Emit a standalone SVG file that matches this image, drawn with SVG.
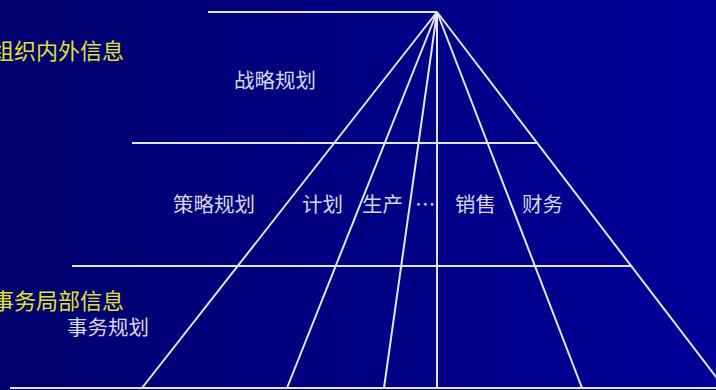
<svg xmlns="http://www.w3.org/2000/svg" width="716" height="390" viewBox="0 0 716 390">
  <defs>
    <linearGradient id="bg" x1="0" y1="0" x2="1" y2="0">
      <stop offset="0" stop-color="#00006e"/>
      <stop offset="1" stop-color="#000098"/>
    </linearGradient>
  </defs>
  <style>
    .ln { stroke: #e4e4f4; stroke-width: 2; fill: none; stroke-linecap: butt; }
    .yl { fill: #e2e22a; font-family: "Noto Sans CJK SC", "Noto Sans CJK TC", sans-serif; font-size: 22px; }
    .wt { fill: #d6d6ec; font-family: "Noto Sans CJK SC", "Noto Sans CJK TC", sans-serif; font-size: 20.5px; }
  </style>
  <rect x="0" y="0" width="716" height="390" fill="url(#bg)"/>
  <g id="connectors">
    <line class="ln" x1="208" y1="12" x2="437" y2="12"/>
    <line class="ln" x1="132" y1="143" x2="537" y2="143"/>
    <line class="ln" x1="72" y1="266" x2="631" y2="266"/>
    <line class="ln" x1="10" y1="388" x2="716" y2="388"/>
    <line class="ln" x1="437" y1="12" x2="142" y2="388"/>
    <line class="ln" x1="437" y1="12" x2="287" y2="388"/>
    <line class="ln" x1="437" y1="12" x2="384" y2="388"/>
    <line class="ln" x1="437" y1="12" x2="437" y2="388"/>
    <line class="ln" x1="437" y1="12" x2="582" y2="388"/>
    <line class="ln" x1="437" y1="12" x2="723" y2="386"/>
  </g>
  <g id="org-info"><text class="yl" x="-8" y="59">组织内外信息</text></g>
  <g id="strategic-plan"><text class="wt" x="234" y="88">战略规划</text></g>
  <g id="tactical-plan"><text class="wt" x="173" y="212">策略规划</text></g>
  <g id="plan"><text class="wt" x="302" y="212">计划</text></g>
  <g id="production"><text class="wt" x="362" y="212">生产</text></g>
  <g id="ellipsis"><text class="wt" x="415" y="212">…</text></g>
  <g id="sales"><text class="wt" x="455" y="212">销售</text></g>
  <g id="finance"><text class="wt" x="522" y="212">财务</text></g>
  <g id="dept-info"><text class="yl" x="-8" y="309">事务局部信息</text></g>
  <g id="operational-plan"><text class="wt" x="67" y="335">事务规划</text></g>
</svg>
